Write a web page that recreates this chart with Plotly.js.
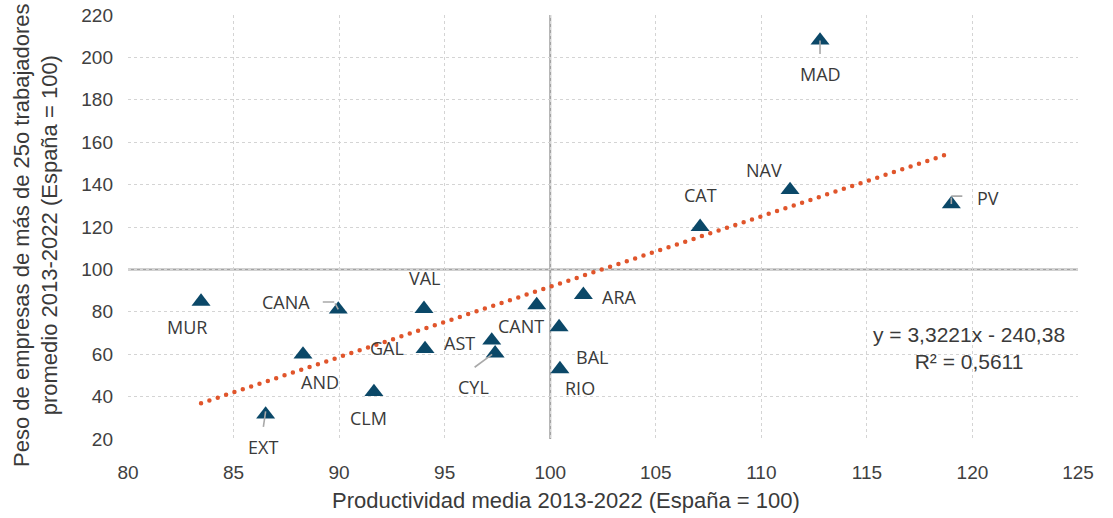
<!DOCTYPE html>
<html>
<head>
<meta charset="utf-8">
<script src="https://cdn.plot.ly/plotly-3.0.1.min.js"></script>
<style>
html,body{margin:0;padding:0;background:#fff;}
#chart{width:1113px;height:518px;}
.trend .js-line{stroke-linecap:round;}
</style>
</head>
<body>
<div id="chart"></div>
<script>
// ---- Data ----
var regions = ['MUR','CANA','VAL','GAL','AND','CLM','EXT','AST','CYL','CANT','BAL','RIO','ARA','MAD','NAV','CAT','PV'];
var productividad = [83.46, 89.96, 94.02, 94.07, 88.29, 91.65, 86.52, 97.23, 97.39, 99.36, 100.42, 100.46, 101.57, 112.78, 111.36, 107.10, 119.00];
var pesoGrandes = [84.8, 81.1, 81.4, 62.5, 59.9, 42.2, 31.6, 66.5, 60.4, 83.2, 72.8, 53.0, 88.0, 208.0, 137.5, 120.1, 130.8];
var trendSlope = 3.3221;
var trendIntercept = -240.38;
var equationText = 'y = 3,3221x - 240,38<br>R² = 0,5611';
var xTicks = [80, 85, 90, 95, 100, 105, 110, 115, 120, 125];
var yTicks = [20, 40, 60, 80, 100, 120, 140, 160, 180, 200, 220];
var xTitle = 'Productividad media 2013-2022 (España = 100)';
var yTitle = 'Peso de empresas de más de 25o trabajadores<br>promedio 2013-2022 (España = 100)';
var refValue = 100;

// ---- Styling (label pixel offsets, leader lines) ----
var labelOffsets = {
  MUR:[-14,25], CANA:[-52,-7.5], VAL:[1,-31], GAL:[-38.5,-1], AND:[17,27.5], CLM:[-5.5,26],
  EXT:[-3,32.5], AST:[-32,2.5], CYL:[-22,34], CANT:[-16,21], BAL:[32.5,30], RIO:[20,19],
  ARA:[36,2], MAD:[0,33.5], NAV:[-26,-20], CAT:[0,-32], PV:[37,-6.5]
};
// each leader segment: [region, startShiftX, startShiftY(down+), dx, dy(down+)]
var leaders = [
  ['CANA', 0, 0, -4, -7.5], ['CANA', -4, -7.5, -13, 0],
  ['EXT', 0, -3, -2.5, 17],
  ['MAD', 0, 0, 0, 15],
  ['PV', 0, 0, 0, -8], ['PV', 0, -8, 12.5, 0],
  ['CYL', -3, 1, -19, 14]
];

var textColor = '#3a3a3a';
var xmin = Math.min.apply(null, productividad);
var xmax = Math.max.apply(null, productividad);

var traces = [
  {
    type:'scatter', mode:'lines', x:[xmin, xmax],
    y:[trendSlope*xmin + trendIntercept, trendSlope*xmax + trendIntercept],
    line:{color:'#e0552b', width:4.5, dash:'0px,8.8px'},
    hoverinfo:'skip', showlegend:false
  },
  {
    type:'scatter', mode:'markers', x:productividad, y:pesoGrandes, text:regions,
    marker:{symbol:'triangle-up', size:16.5, color:'#0b4868'},
    showlegend:false
  }
];

var annotations = [];
regions.forEach(function(r, i){
  var o = labelOffsets[r];
  annotations.push({
    x:productividad[i], y:pesoGrandes[i], xref:'x', yref:'y', text:r, showarrow:false,
    xshift:o[0], yshift:-o[1], xanchor:'center', yanchor:'middle',
    font:{family:'Open Sans, sans-serif', size:18, color:textColor}
  });
});
leaders.forEach(function(l){
  var i = regions.indexOf(l[0]);
  annotations.push({
    x:productividad[i], y:pesoGrandes[i], xref:'x', yref:'y', text:'', showarrow:true,
    xshift:l[1], yshift:-l[2], ax:l[3], ay:l[4], axref:'pixel', ayref:'pixel',
    arrowhead:0, arrowwidth:1.6, arrowcolor:'#a9a9a9', standoff:0, startstandoff:0,
    font:{size:1}
  });
});
annotations.push({
  xref:'paper', yref:'paper', x:0.885, y:0.215, text:equationText, showarrow:false,
  xanchor:'center', yanchor:'middle', align:'center',
  font:{family:'Liberation Sans, Arial, sans-serif', size:21, color:textColor}
});
annotations.push({
  xref:'paper', yref:'paper', x:0.461, y:-0.144, text:xTitle, showarrow:false,
  xanchor:'center', yanchor:'middle',
  font:{family:'Liberation Sans, Arial, sans-serif', size:22, color:textColor}
});
annotations.push({
  xref:'paper', yref:'paper', x:-0.097, y:0.481, text:yTitle, showarrow:false,
  textangle:-90, xanchor:'center', yanchor:'middle', align:'center',
  font:{family:'Liberation Sans, Arial, sans-serif', size:22, color:textColor}
});

var layout = {
  width:1113, height:518,
  margin:{l:128, r:35, t:15, b:79, pad:0},
  paper_bgcolor:'#ffffff', plot_bgcolor:'#ffffff',
  showlegend:false,
  xaxis:{
    range:[80,125], tickmode:'array', tickvals:xTicks, ticktext:xTicks.map(String),
    showgrid:true, gridcolor:'#d4d4d4', gridwidth:1, griddash:'dot',
    zeroline:false, showline:false, ticks:'', ticklabelstandoff:20,
    tickfont:{family:'Liberation Sans, Arial, sans-serif', size:19, color:'#404040'}
  },
  yaxis:{
    range:[20,220], tickmode:'array', tickvals:yTicks, ticktext:yTicks.map(String),
    showgrid:true, gridcolor:'#d4d4d4', gridwidth:1, griddash:'dot',
    zeroline:false, showline:false, ticks:'', ticklabelstandoff:14,
    tickfont:{family:'Liberation Sans, Arial, sans-serif', size:19, color:'#404040'}
  },
  shapes:[
    {type:'line', xref:'x', yref:'paper', x0:refValue, x1:refValue, y0:0, y1:1, layer:'below',
     line:{color:'#a3a3a3', width:2}},
    {type:'line', xref:'paper', yref:'y', x0:0, x1:1, y0:refValue, y1:refValue, layer:'below',
     line:{color:'#a3a3a3', width:2}}
  ],
  annotations:annotations
};

Plotly.newPlot('chart', traces, layout, {staticPlot:true, displayModeBar:false}).then(function(gd){
  var tr = gd.querySelectorAll('.scatterlayer .trace');
  if (tr.length) tr[0].classList.add('trend');
});
</script>
</body>
</html>
